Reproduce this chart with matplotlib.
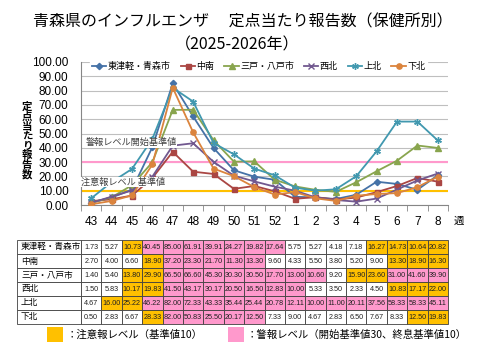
import matplotlib
matplotlib.use('Agg')
import matplotlib.pyplot as plt
from matplotlib.patches import Rectangle

CJK = ['Noto Sans CJK JP', 'DejaVu Sans']
NUM = ['Liberation Sans', 'DejaVu Sans']
plt.rcParams['font.family'] = CJK

weeks = ['43', '44', '45', '46', '47', '48', '49', '50', '51', '52',
         '1', '2', '3', '4', '5', '6', '7', '8']
regions = ['東津軽・青森市', '中南', '三戸・八戸市', '西北', '上北', '下北']
higashitsugaru = [1.73, 5.27, 10.73, 40.45, 85.00, 61.91, 39.91, 24.27, 19.82, 17.64,
                  5.75, 5.27, 4.18, 7.18, 16.27, 14.73, 10.64, 20.82]
chunan = [2.70, 4.00, 6.60, 18.90, 37.20, 23.30, 21.70, 11.30, 13.30, 9.60,
          4.33, 5.50, 3.80, 5.20, 9.00, 13.30, 18.90, 16.30]
sannohe = [1.40, 5.40, 13.80, 29.90, 66.50, 66.60, 45.30, 30.30, 30.50, 17.70,
           13.00, 10.60, 9.20, 15.90, 23.60, 31.00, 41.60, 39.90]
seihoku = [1.50, 5.83, 10.17, 19.83, 41.50, 43.17, 30.17, 20.50, 16.50, 12.83,
           10.00, 5.33, 3.50, 2.33, 4.50, 10.83, 17.17, 22.00]
kamikita = [4.67, 16.00, 25.22, 46.22, 82.00, 72.33, 43.33, 35.44, 25.44, 20.78,
            12.11, 10.00, 11.00, 20.11, 37.56, 58.33, 58.33, 45.11]
shimokita = [0.50, 2.83, 6.67, 28.33, 82.00, 50.83, 25.50, 20.17, 12.50, 7.33,
             9.00, 4.67, 2.83, 6.50, 7.67, 8.33, 12.50, 19.83]
series = [higashitsugaru, chunan, sannohe, seihoku, kamikita, shimokita]

warning_level = 10   # 注意報
alarm_start = 30     # 警報開始
alarm_end = 10       # 警報終息

colors = ['#4572A7', '#AA4643', '#89A54E', '#71588F', '#4198AF', '#DB843D']
markers = ['D', 's', '^', 'x', (6, 2, 0), 'o']
msizes = [3.2, 3.6, 4.2, 4.2, 4.8, 3.8]
ORANGE = '#FFC000'
PINK = '#FF99CC'

W, H = 480, 360
fig = plt.figure(figsize=(4.8, 3.6), dpi=100)

# overlay axes in pixel coordinates for table / legend / titles
ov = fig.add_axes([0, 0, 1, 1], zorder=0)
ov.set_xlim(0, W)
ov.set_ylim(H, 0)
ov.axis('off')

# main chart
PL, PR, PT, PB = 81, 448, 62, 205
ax = fig.add_axes([PL / W, 1 - PB / H, (PR - PL) / W, (PB - PT) / H], zorder=2)
ax.patch.set_alpha(0)
x = list(range(len(weeks)))
for name, vals, c, m, ms in zip(regions, series, colors, markers, msizes):
    ax.plot(x, vals, color=c, lw=1.3, marker=m, ms=ms, mew=1.0,
            mfc=c, mec=c, label=name, zorder=3)
ax.axhline(alarm_start, color=PINK, lw=1.5, zorder=2)
ax.axhline(warning_level, color=ORANGE, lw=1.5, zorder=2)
ax.set_xlim(-0.5, len(weeks) - 0.5)
ax.set_ylim(0, 100)
ax.set_yticks(range(0, 101, 10))
ax.set_yticklabels([f'{v:.2f}' for v in range(0, 101, 10)],
                   fontfamily=NUM, fontsize=8.5)
ax.set_xticks(x)
ax.set_xticklabels(weeks, fontfamily=NUM, fontsize=8.5)
ax.set_xticks([i - 0.5 for i in range(len(weeks) + 1)], minor=True)
ax.tick_params(axis='x', which='major', length=0, pad=8)
ax.tick_params(axis='x', which='minor', length=4, color='#868686', direction='out')
ax.tick_params(axis='y', length=0, pad=9)
ax.yaxis.grid(True, color='#BFBFBF', lw=0.8, zorder=1)
ax.set_axisbelow(True)
for s in ['top', 'right']:
    ax.spines[s].set_visible(False)
for s in ['left', 'bottom']:
    ax.spines[s].set_color('#868686')
    ax.spines[s].set_linewidth(0.8)
ax.text(len(weeks) + 0.05, -0.11, '週', transform=ax.get_xaxis_transform(),
        fontsize=7.5, ha='center', va='center')

leg = ax.legend(loc='upper left', bbox_to_anchor=(0.025, 1.015), ncol=6, frameon=True,
                fontsize=6.5, handlelength=1.6, columnspacing=1.1, handletextpad=0.15,
                borderpad=0.2, borderaxespad=0.0)
leg.get_frame().set_facecolor('white')
leg.get_frame().set_edgecolor('white')
leg.get_frame().set_alpha(1)

bb = dict(facecolor='white', edgecolor='none', pad=0.5)
ax.text(1.95, 43.5, '警報レベル開始基準値', fontsize=6.6, color='#404040',
        ha='center', va='center', bbox=bb, zorder=4)
ax.text(1.55, 16.0, '注意報レベル 基準値', fontsize=6.6, color='#404040',
        ha='center', va='center', bbox=bb, zorder=4)

# y label (stacked characters)
ov.text(27, 141, '\n'.join('定点当たり報告数'), fontsize=7.5, fontweight='bold',
        ha='center', va='center', linespacing=0.95)

# title
ov.text(243, 22, '青森県のインフルエンザ　 定点当たり報告数（保健所別）', fontsize=11.5,
        ha='center', va='center')
ov.text(237, 45, '（2025-2026年）', fontsize=11.5, ha='center', va='center')

# data table
TL, TT, RH = 17, 240, 14
cw = (PR - PL) / len(weeks)


def cell_colors(vals):
    out = []
    alarm = False
    for v in vals:
        if alarm and v < alarm_end:
            alarm = False
        if not alarm and v >= alarm_start:
            alarm = True
        out.append(PINK if alarm else (ORANGE if v >= warning_level else 'white'))
    return out


for r, (name, vals) in enumerate(zip(regions, series)):
    y0 = TT + r * RH
    ov.add_patch(Rectangle((TL, y0), PL - TL, RH, facecolor='white',
                           edgecolor='#404040', lw=0.6))
    ov.text(TL + 4, y0 + RH / 2, name, fontsize=6.2, ha='left', va='center')
    for c, (v, fc) in enumerate(zip(vals, cell_colors(vals))):
        x0 = PL + c * cw
        ov.add_patch(Rectangle((x0, y0), cw, RH, facecolor=fc,
                               edgecolor='#404040', lw=0.6))
        ov.text(x0 + cw / 2, y0 + RH / 2 + 0.5, f'{v:.2f}', fontsize=5.2,
                fontfamily=NUM, ha='center', va='center', color='#202020')

# bottom legend
ov.add_patch(Rectangle((47, 327), 16, 15, facecolor=ORANGE, edgecolor='none'))
ov.text(67, 334.5, '：注意報レベル（基準値10）', fontsize=7.5, ha='left', va='center')
ov.add_patch(Rectangle((228, 327), 16, 15, facecolor=PINK, edgecolor='none'))
ov.text(247, 334.5, '：警報レベル（開始基準値30、終息基準値10）', fontsize=7.5,
        ha='left', va='center')

fig.savefig('out.png', dpi=100)
